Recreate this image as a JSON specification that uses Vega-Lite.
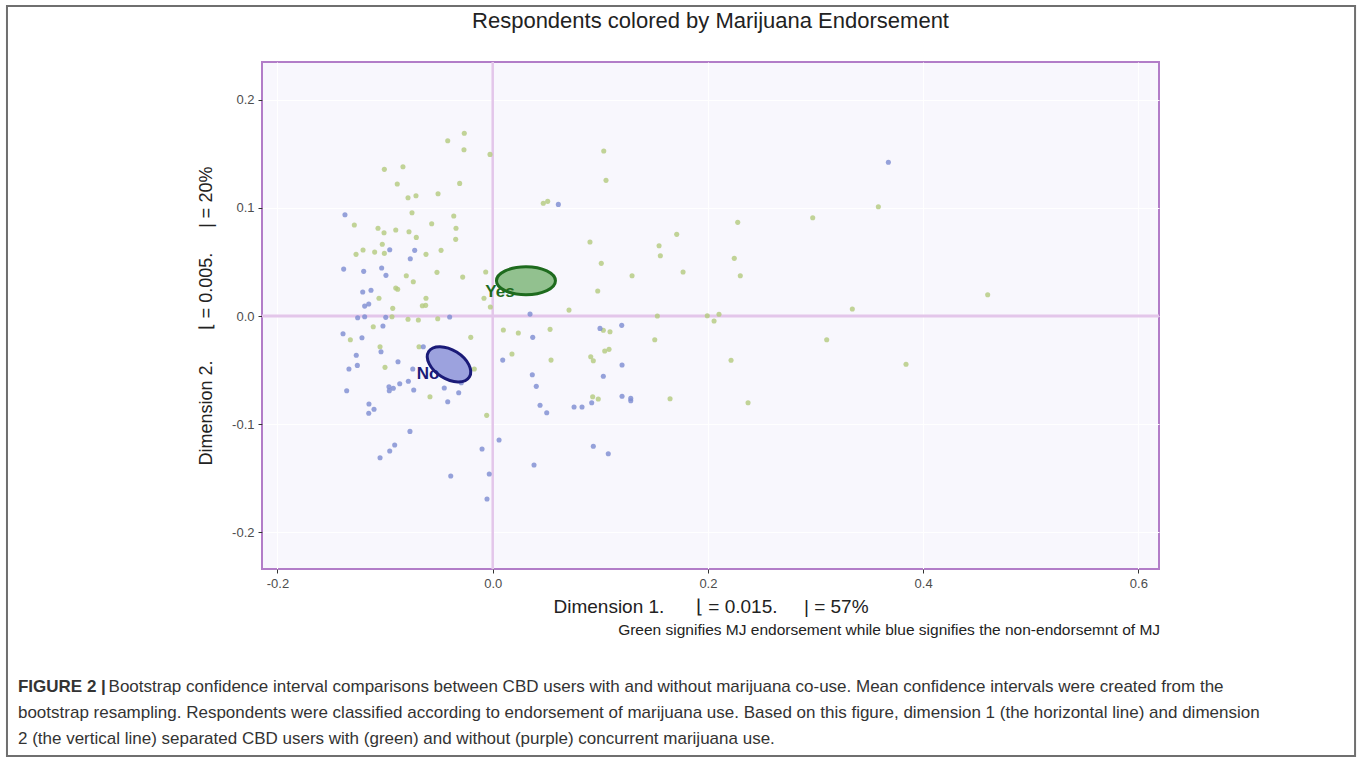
{
  "$schema": "https://vega.github.io/schema/vega-lite/v6.json",
  "width": 897,
  "height": 507,
  "autosize": "none",
  "padding": {"left": 262, "top": 62, "right": 204, "bottom": 192},
  "background": "white",
  "title": {
    "text": "Respondents colored by Marijuana Endorsement",
    "fontSize": 22,
    "fontWeight": "normal",
    "font": "Liberation Sans",
    "color": "#222222",
    "anchor": "middle",
    "frame": "group",
    "offset": -28
  },
  "config": {
    "view": {"fill": "#f8f7fd", "stroke": "#b27dc8", "strokeWidth": 2},
    "axis": {
      "labelFont": "Liberation Sans",
      "titleFont": "Liberation Sans",
      "labelFontSize": 13,
      "labelColor": "#4d4d4d",
      "tickColor": "#333333",
      "tickSize": 4,
      "domain": false,
      "grid": true,
      "gridColor": "#ffffff",
      "gridWidth": 1,
      "titleFontSize": 18,
      "titleFontWeight": "normal",
      "titleColor": "#222222"
    }
  },
  "datasets": {
    "points": [
      {"d1": -0.0418, "d2": 0.1620, "mj": "Yes"},
      {"d1": -0.0264, "d2": 0.1689, "mj": "Yes"},
      {"d1": -0.0267, "d2": 0.1537, "mj": "Yes"},
      {"d1": -0.0025, "d2": 0.1494, "mj": "Yes"},
      {"d1": -0.1007, "d2": 0.1356, "mj": "Yes"},
      {"d1": -0.0834, "d2": 0.1380, "mj": "Yes"},
      {"d1": -0.0887, "d2": 0.1220, "mj": "Yes"},
      {"d1": -0.0307, "d2": 0.1226, "mj": "Yes"},
      {"d1": -0.0787, "d2": 0.1093, "mj": "Yes"},
      {"d1": -0.0713, "d2": 0.1112, "mj": "Yes"},
      {"d1": -0.0508, "d2": 0.1130, "mj": "Yes"},
      {"d1": -0.0750, "d2": 0.0955, "mj": "Yes"},
      {"d1": -0.1286, "d2": 0.0841, "mj": "Yes"},
      {"d1": -0.0567, "d2": 0.0853, "mj": "Yes"},
      {"d1": -0.0362, "d2": 0.0924, "mj": "Yes"},
      {"d1": -0.1066, "d2": 0.0811, "mj": "Yes"},
      {"d1": -0.1010, "d2": 0.0770, "mj": "Yes"},
      {"d1": -0.0901, "d2": 0.0795, "mj": "Yes"},
      {"d1": -0.0778, "d2": 0.0779, "mj": "Yes"},
      {"d1": -0.0710, "d2": 0.0727, "mj": "Yes"},
      {"d1": -0.0341, "d2": 0.0811, "mj": "Yes"},
      {"d1": -0.0344, "d2": 0.0709, "mj": "Yes"},
      {"d1": 0.1032, "d2": 0.1525, "mj": "Yes"},
      {"d1": 0.1053, "d2": 0.1254, "mj": "Yes"},
      {"d1": 0.0470, "d2": 0.1042, "mj": "Yes"},
      {"d1": 0.0511, "d2": 0.1060, "mj": "Yes"},
      {"d1": 0.0904, "d2": 0.0684, "mj": "Yes"},
      {"d1": 0.1009, "d2": 0.0487, "mj": "Yes"},
      {"d1": 0.0976, "d2": 0.0231, "mj": "Yes"},
      {"d1": 0.1295, "d2": 0.0372, "mj": "Yes"},
      {"d1": 0.1546, "d2": 0.0650, "mj": "Yes"},
      {"d1": 0.1558, "d2": 0.0557, "mj": "Yes"},
      {"d1": 0.1710, "d2": 0.0755, "mj": "Yes"},
      {"d1": 0.1769, "d2": 0.0407, "mj": "Yes"},
      {"d1": 0.1530, "d2": 0.0000, "mj": "Yes"},
      {"d1": 0.0709, "d2": 0.0055, "mj": "Yes"},
      {"d1": 0.0418, "d2": 0.0247, "mj": "Yes"},
      {"d1": -0.0065, "d2": 0.0407, "mj": "Yes"},
      {"d1": -0.0279, "d2": 0.0360, "mj": "Yes"},
      {"d1": -0.0022, "d2": 0.0083, "mj": "Yes"},
      {"d1": -0.0081, "d2": 0.0164, "mj": "Yes"},
      {"d1": -0.1270, "d2": 0.0570, "mj": "Yes"},
      {"d1": -0.1205, "d2": 0.0610, "mj": "Yes"},
      {"d1": -0.1097, "d2": 0.0591, "mj": "Yes"},
      {"d1": -0.1026, "d2": 0.0663, "mj": "Yes"},
      {"d1": -0.1007, "d2": 0.0579, "mj": "Yes"},
      {"d1": -0.0620, "d2": 0.0570, "mj": "Yes"},
      {"d1": -0.0480, "d2": 0.0607, "mj": "Yes"},
      {"d1": -0.0518, "d2": 0.0404, "mj": "Yes"},
      {"d1": -0.0803, "d2": 0.0372, "mj": "Yes"},
      {"d1": -0.0738, "d2": 0.0317, "mj": "Yes"},
      {"d1": -0.0901, "d2": 0.0259, "mj": "Yes"},
      {"d1": -0.0883, "d2": 0.0247, "mj": "Yes"},
      {"d1": -0.1057, "d2": 0.0164, "mj": "Yes"},
      {"d1": -0.0620, "d2": 0.0164, "mj": "Yes"},
      {"d1": -0.0654, "d2": 0.0095, "mj": "Yes"},
      {"d1": -0.0623, "d2": 0.0099, "mj": "Yes"},
      {"d1": -0.0929, "d2": 0.0071, "mj": "Yes"},
      {"d1": -0.0936, "d2": -0.0006, "mj": "Yes"},
      {"d1": -0.0787, "d2": -0.0030, "mj": "Yes"},
      {"d1": -0.0691, "d2": -0.0037, "mj": "Yes"},
      {"d1": -0.0511, "d2": -0.0025, "mj": "Yes"},
      {"d1": -0.1110, "d2": -0.0099, "mj": "Yes"},
      {"d1": -0.1323, "d2": -0.0219, "mj": "Yes"},
      {"d1": 0.0099, "d2": -0.0129, "mj": "Yes"},
      {"d1": 0.0238, "d2": -0.0157, "mj": "Yes"},
      {"d1": 0.0533, "d2": -0.0123, "mj": "Yes"},
      {"d1": 0.1028, "d2": -0.0132, "mj": "Yes"},
      {"d1": 0.1090, "d2": -0.0145, "mj": "Yes"},
      {"d1": 0.1506, "d2": -0.0219, "mj": "Yes"},
      {"d1": -0.0204, "d2": -0.0197, "mj": "Yes"},
      {"d1": -0.0685, "d2": -0.0284, "mj": "Yes"},
      {"d1": -0.1047, "d2": -0.0284, "mj": "Yes"},
      {"d1": -0.1001, "d2": -0.0474, "mj": "Yes"},
      {"d1": -0.0171, "d2": -0.0490, "mj": "Yes"},
      {"d1": -0.0583, "d2": -0.0746, "mj": "Yes"},
      {"d1": -0.0056, "d2": -0.0918, "mj": "Yes"},
      {"d1": 0.0179, "d2": -0.0351, "mj": "Yes"},
      {"d1": 0.0542, "d2": -0.0407, "mj": "Yes"},
      {"d1": 0.0929, "d2": -0.0746, "mj": "Yes"},
      {"d1": 0.0981, "d2": -0.0767, "mj": "Yes"},
      {"d1": 0.0911, "d2": -0.0376, "mj": "Yes"},
      {"d1": 0.0935, "d2": -0.0413, "mj": "Yes"},
      {"d1": 0.1041, "d2": -0.0323, "mj": "Yes"},
      {"d1": 0.1081, "d2": -0.0308, "mj": "Yes"},
      {"d1": 0.1648, "d2": -0.0764, "mj": "Yes"},
      {"d1": 0.3584, "d2": 0.1010, "mj": "Yes"},
      {"d1": 0.2974, "d2": 0.0908, "mj": "Yes"},
      {"d1": 0.2277, "d2": 0.0866, "mj": "Yes"},
      {"d1": 0.2245, "d2": 0.0533, "mj": "Yes"},
      {"d1": 0.2301, "d2": 0.0372, "mj": "Yes"},
      {"d1": 0.4600, "d2": 0.0197, "mj": "Yes"},
      {"d1": 0.3342, "d2": 0.0065, "mj": "Yes"},
      {"d1": 0.1994, "d2": 0.0003, "mj": "Yes"},
      {"d1": 0.2057, "d2": -0.0046, "mj": "Yes"},
      {"d1": 0.2103, "d2": 0.0016, "mj": "Yes"},
      {"d1": 0.3104, "d2": -0.0219, "mj": "Yes"},
      {"d1": 0.2215, "d2": -0.0409, "mj": "Yes"},
      {"d1": 0.2373, "d2": -0.0801, "mj": "Yes"},
      {"d1": 0.3841, "d2": -0.0446, "mj": "Yes"},
      {"d1": -0.1373, "d2": 0.0936, "mj": "No"},
      {"d1": 0.0610, "d2": 0.1032, "mj": "No"},
      {"d1": 0.0347, "d2": 0.0018, "mj": "No"},
      {"d1": -0.1385, "d2": 0.0434, "mj": "No"},
      {"d1": -0.1199, "d2": 0.0413, "mj": "No"},
      {"d1": -0.1032, "d2": 0.0444, "mj": "No"},
      {"d1": -0.0992, "d2": 0.0376, "mj": "No"},
      {"d1": -0.0957, "d2": 0.0613, "mj": "No"},
      {"d1": -0.0725, "d2": 0.0607, "mj": "No"},
      {"d1": -0.0766, "d2": 0.0530, "mj": "No"},
      {"d1": -0.1208, "d2": 0.0222, "mj": "No"},
      {"d1": -0.1131, "d2": 0.0238, "mj": "No"},
      {"d1": -0.1190, "d2": 0.0092, "mj": "No"},
      {"d1": -0.1152, "d2": 0.0111, "mj": "No"},
      {"d1": -0.1255, "d2": -0.0016, "mj": "No"},
      {"d1": -0.1190, "d2": -0.0006, "mj": "No"},
      {"d1": -0.0994, "d2": -0.0012, "mj": "No"},
      {"d1": -0.0400, "d2": -0.0009, "mj": "No"},
      {"d1": -0.1020, "d2": -0.0092, "mj": "No"},
      {"d1": -0.1391, "d2": -0.0164, "mj": "No"},
      {"d1": -0.1215, "d2": -0.0201, "mj": "No"},
      {"d1": 0.0372, "d2": -0.0197, "mj": "No"},
      {"d1": 0.0997, "d2": -0.0114, "mj": "No"},
      {"d1": 0.1199, "d2": -0.0086, "mj": "No"},
      {"d1": -0.0645, "d2": -0.0284, "mj": "No"},
      {"d1": -0.1038, "d2": -0.0330, "mj": "No"},
      {"d1": -0.1268, "d2": -0.0363, "mj": "No"},
      {"d1": -0.1336, "d2": -0.0490, "mj": "No"},
      {"d1": -0.1258, "d2": -0.0456, "mj": "No"},
      {"d1": -0.0880, "d2": -0.0422, "mj": "No"},
      {"d1": -0.0743, "d2": -0.0490, "mj": "No"},
      {"d1": -0.0441, "d2": -0.0456, "mj": "No"},
      {"d1": -0.0292, "d2": -0.0616, "mj": "No"},
      {"d1": -0.1357, "d2": -0.0690, "mj": "No"},
      {"d1": -0.0964, "d2": -0.0653, "mj": "No"},
      {"d1": -0.0924, "d2": -0.0668, "mj": "No"},
      {"d1": -0.0961, "d2": -0.0690, "mj": "No"},
      {"d1": -0.0864, "d2": -0.0626, "mj": "No"},
      {"d1": -0.0784, "d2": -0.0603, "mj": "No"},
      {"d1": -0.0734, "d2": -0.0684, "mj": "No"},
      {"d1": -0.0450, "d2": -0.0665, "mj": "No"},
      {"d1": -0.0316, "d2": -0.0709, "mj": "No"},
      {"d1": -0.0418, "d2": -0.0792, "mj": "No"},
      {"d1": -0.1150, "d2": -0.0813, "mj": "No"},
      {"d1": -0.1103, "d2": -0.0862, "mj": "No"},
      {"d1": -0.1152, "d2": -0.0899, "mj": "No"},
      {"d1": -0.0769, "d2": -0.1066, "mj": "No"},
      {"d1": -0.0911, "d2": -0.1192, "mj": "No"},
      {"d1": -0.0957, "d2": -0.1248, "mj": "No"},
      {"d1": -0.1047, "d2": -0.1310, "mj": "No"},
      {"d1": -0.0390, "d2": -0.1479, "mj": "No"},
      {"d1": -0.0099, "d2": -0.1229, "mj": "No"},
      {"d1": -0.0032, "d2": -0.1460, "mj": "No"},
      {"d1": -0.0053, "d2": -0.1691, "mj": "No"},
      {"d1": 0.0059, "d2": -0.1146, "mj": "No"},
      {"d1": 0.0093, "d2": -0.0407, "mj": "No"},
      {"d1": 0.0368, "d2": -0.0543, "mj": "No"},
      {"d1": 0.0405, "d2": -0.0650, "mj": "No"},
      {"d1": 0.0440, "d2": -0.0825, "mj": "No"},
      {"d1": 0.0502, "d2": -0.0894, "mj": "No"},
      {"d1": 0.0384, "d2": -0.1377, "mj": "No"},
      {"d1": 0.0756, "d2": -0.0841, "mj": "No"},
      {"d1": 0.0830, "d2": -0.0841, "mj": "No"},
      {"d1": 0.0920, "d2": -0.0801, "mj": "No"},
      {"d1": 0.1028, "d2": -0.0557, "mj": "No"},
      {"d1": 0.1202, "d2": -0.0453, "mj": "No"},
      {"d1": 0.1202, "d2": -0.0742, "mj": "No"},
      {"d1": 0.1283, "d2": -0.0761, "mj": "No"},
      {"d1": 0.1283, "d2": -0.0783, "mj": "No"},
      {"d1": 0.0935, "d2": -0.1204, "mj": "No"},
      {"d1": 0.1074, "d2": -0.1273, "mj": "No"},
      {"d1": 0.3677, "d2": 0.1421, "mj": "No"}
    ],
    "means": [
      {"group": "Yes", "d1": 0.0309, "d2": 0.0326},
      {"group": "No", "d1": -0.0406, "d2": -0.0446}
    ],
    "labels": [
      {"group": "Yes", "d1": 0.0068, "d2": 0.0219},
      {"group": "No", "d1": -0.0601, "d2": -0.0536}
    ]
  },
  "layer": [
    {
      "data": {"values": [{}]},
      "mark": {"type": "rule", "color": "#e3c6ea", "strokeWidth": 2.5},
      "encoding": {
        "x": {
          "datum": 0,
          "type": "quantitative",
          "scale": {"domain": [-0.2144, 0.6192], "nice": false, "zero": false},
          "axis": {
            "values": [-0.2, 0, 0.2, 0.4, 0.6],
            "labelExpr": "replace(format(datum.value, '.1f'), '\u2212', '-')",
            "labelPadding": 4,
            "title": "Dimension 1.\u00a0\u00a0\u00a0\u00a0\u00a0\u00a0\u230a = 0.015.\u00a0\u00a0\u00a0\u00a0\u00a0| = 57%",
            "titleFontSize": 19,
            "titleY": 37,
            "titleBaseline": "middle"
          }
        },
        "y": {
          "datum": 0,
          "type": "quantitative",
          "scale": {"domain": [-0.2338, 0.2348], "nice": false, "zero": false},
          "axis": {
            "values": [-0.2, -0.1, 0, 0.1, 0.2],
            "labelExpr": "replace(format(datum.value, '.1f'), '\u2212', '-')",
            "labelPadding": 4,
            "title": "Dimension 2.\u00a0\u00a0\u00a0\u00a0\u00a0\u00a0\u230a = 0.005.\u00a0\u00a0\u00a0\u00a0\u00a0| = 20%",
            "titleX": -56,
            "titleY": 253.5,
            "titleAngle": 270,
            "titleAlign": "center",
            "titleBaseline": "middle"
          }
        }
      }
    },
    {
      "data": {"values": [{}]},
      "mark": {"type": "rule", "color": "#e3c6ea", "strokeWidth": 3},
      "encoding": {"y": {"datum": 0, "type": "quantitative"}}
    },
    {
      "data": {"values": [{}]},
      "mark": {"type": "rule", "color": "#e3c6ea", "strokeWidth": 2.5},
      "encoding": {"x": {"datum": 0, "type": "quantitative"}}
    },
    {
      "data": {"name": "points"},
      "mark": {"type": "circle", "size": 26, "opacity": 0.82},
      "encoding": {
        "x": {"field": "d1", "type": "quantitative"},
        "y": {"field": "d2", "type": "quantitative"},
        "color": {
          "field": "mj",
          "type": "nominal",
          "scale": {"domain": ["Yes", "No"], "range": ["#b5ca80", "#7f8dd2"]},
          "legend": null
        }
      }
    },
    {
      "data": {"name": "means"},
      "transform": [{"filter": "datum.group === 'Yes'"}],
      "mark": {
        "type": "point",
        "shape": "M -1 0 C -1 -0.262 -0.5523 -0.475 0 -0.475 C 0.5523 -0.475 1 -0.262 1 0 C 1 0.262 0.5523 0.475 0 0.475 C -0.5523 0.475 -1 0.262 -1 0 Z",
        "size": 3481,
        "filled": true,
        "fill": "#92c18f",
        "fillOpacity": 1,
        "stroke": "#1e6b1e",
        "strokeWidth": 3,
        "opacity": 1
      },
      "encoding": {
        "x": {"field": "d1", "type": "quantitative"},
        "y": {"field": "d2", "type": "quantitative"}
      }
    },
    {
      "data": {"name": "means"},
      "transform": [{"filter": "datum.group === 'No'"}],
      "mark": {
        "type": "point",
        "shape": "M -1 0 C -1 -0.3314 -0.5523 -0.6 0 -0.6 C 0.5523 -0.6 1 -0.3314 1 0 C 1 0.3314 0.5523 0.6 0 0.6 C -0.5523 0.6 -1 0.3314 -1 0 Z",
        "size": 2304,
        "angle": 32,
        "filled": true,
        "fill": "#9ca2de",
        "fillOpacity": 1,
        "stroke": "#1b1b78",
        "strokeWidth": 3,
        "opacity": 1
      },
      "encoding": {
        "x": {"field": "d1", "type": "quantitative"},
        "y": {"field": "d2", "type": "quantitative"}
      }
    },
    {
      "data": {"name": "labels"},
      "mark": {"type": "text", "font": "Liberation Sans", "fontSize": 17, "fontWeight": "bold", "align": "center", "baseline": "middle"},
      "encoding": {
        "x": {"field": "d1", "type": "quantitative"},
        "y": {"field": "d2", "type": "quantitative"},
        "text": {"field": "group"},
        "color": {"condition": {"test": "datum.group === 'Yes'", "value": "#1e6b1e"}, "value": "#1b1b78"}
      }
    },
    {
      "data": {"values": [{}]},
      "mark": {"type": "rect", "fill": "transparent", "stroke": "#6f6f6f", "strokeWidth": 2},
      "encoding": {
        "x": {"datum": -0.4514, "type": "quantitative"},
        "x2": {"datum": 0.8014},
        "y": {"datum": 0.2865, "type": "quantitative"},
        "y2": {"datum": -0.4067}
      }
    },
    {
      "data": {"values": [{"t": "Green signifies MJ endorsement while blue signifies the non-endorsemnt of MJ"}]},
      "mark": {"type": "text", "font": "Liberation Sans", "fontSize": 15.5, "color": "#222222", "align": "right", "baseline": "middle"},
      "encoding": {
        "x": {"datum": 0.6202, "type": "quantitative"},
        "y": {"datum": -0.2902, "type": "quantitative"},
        "text": {"field": "t"}
      }
    },
    {
      "data": {"values": [{"t": "FIGURE 2 |"}]},
      "mark": {"type": "text", "font": "Liberation Sans", "fontSize": 17, "fontWeight": "bold", "color": "#333333", "align": "left", "baseline": "middle"},
      "encoding": {
        "x": {"datum": -0.4412, "type": "quantitative"},
        "y": {"datum": -0.3429, "type": "quantitative"},
        "text": {"field": "t"}
      }
    },
    {
      "data": {"values": [{"t": "Bootstrap confidence interval comparisons between CBD users with and without marijuana co-use. Mean confidence intervals were created from the"}]},
      "mark": {"type": "text", "font": "Liberation Sans", "fontSize": 17, "color": "#333333", "align": "left", "baseline": "middle"},
      "encoding": {
        "x": {"datum": -0.3570, "type": "quantitative"},
        "y": {"datum": -0.3429, "type": "quantitative"},
        "text": {"field": "t"}
      }
    },
    {
      "data": {"values": [{"t": "bootstrap resampling. Respondents were classified according to endorsement of marijuana use. Based on this figure, dimension 1 (the horizontal line) and dimension"}]},
      "mark": {"type": "text", "font": "Liberation Sans", "fontSize": 17, "color": "#333333", "align": "left", "baseline": "middle"},
      "encoding": {
        "x": {"datum": -0.4412, "type": "quantitative"},
        "y": {"datum": -0.3669, "type": "quantitative"},
        "text": {"field": "t"}
      }
    },
    {
      "data": {"values": [{"t": "2 (the vertical line) separated CBD users with (green) and without (purple) concurrent marijuana use."}]},
      "mark": {"type": "text", "font": "Liberation Sans", "fontSize": 17, "color": "#333333", "align": "left", "baseline": "middle"},
      "encoding": {
        "x": {"datum": -0.4412, "type": "quantitative"},
        "y": {"datum": -0.3909, "type": "quantitative"},
        "text": {"field": "t"}
      }
    }
  ]
}
